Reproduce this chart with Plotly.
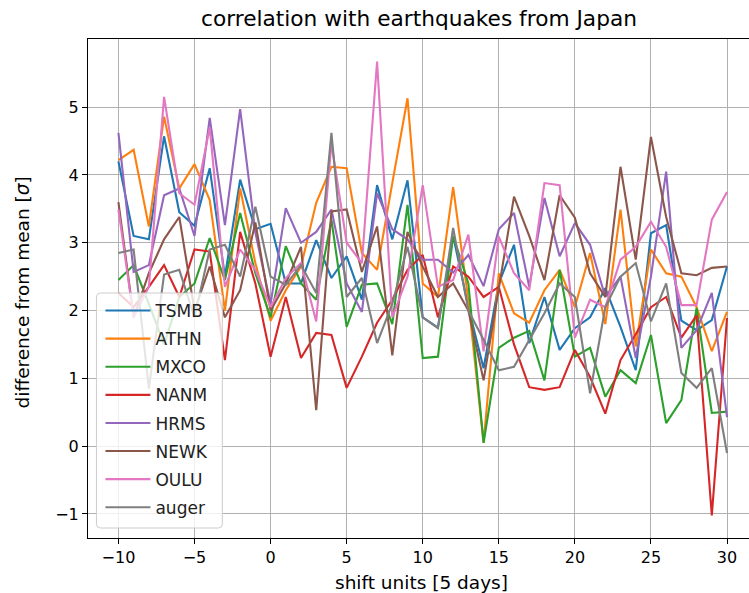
import plotly.graph_objects as go

# shift in units of 5 days
shift = list(range(-10, 31))

TSMB = [4.2, 3.1, 3.05, 4.57, 3.45, 3.25, 4.1, 2.5, 3.93, 3.2, 3.28, 2.4, 2.4, 3.04, 2.48, 2.8, 2.16,
        3.85, 3.05, 3.92, 1.9, 1.75, 3.1, 2.05, 1.15, 2.4, 2.97, 1.52, 2.2, 1.42, 1.74, 1.9, 2.33,
        1.76, 1.12, 3.14, 3.26, 1.85, 1.71, 1.86, 2.65]
ATHN = [4.22, 4.37, 3.24, 4.86, 3.8, 4.16, 3.63, 2.0, 3.8, 2.7, 1.85, 2.3, 2.65, 3.59, 4.12, 4.1, 2.85,
        2.6, 3.88, 5.13, 2.4, 2.2, 3.82, 2.15, 0.05, 2.55, 1.96, 1.82, 2.3, 2.6, 2.05, 2.85, 1.8,
        3.49, 1.47, 2.9, 2.55, 2.5, 2.05, 1.4, 1.98]
MXCO = [2.45, 2.67, 2.1, 1.5, 2.2, 2.4, 3.07, 2.45, 3.44, 2.55, 1.9, 2.95, 2.4, 2.16, 3.34, 1.76, 2.38,
        2.4, 1.8, 3.56, 1.3, 1.32, 3.1, 2.4, 0.05, 1.45, 1.6, 1.7, 0.97, 2.6, 1.32, 1.45, 0.73,
        1.12, 0.93, 1.64, 0.34, 0.68, 2.04, 0.49, 0.51]
NANM = [2.26, 2.05, 2.35, 2.67, 2.2, 2.9, 2.87, 1.27, 3.16, 2.4, 1.32, 2.2, 1.3, 1.67, 1.64, 0.86, 1.32,
        1.82, 2.16, 2.6, 2.82, 1.9, 2.65, 2.5, 2.2, 2.35, 1.5, 0.87, 0.83, 0.87, 1.42, 1.02, 0.48,
        1.27, 1.65, 2.05, 2.2, 1.6, 1.93, -1.02, 1.89]
HRMS = [4.62, 2.57, 2.67, 3.7, 3.8, 3.1, 4.84, 3.26, 4.97, 3.15, 2.1, 3.51, 3.0, 3.16, 3.49, 2.4, 1.98,
        3.73, 3.2, 3.05, 2.75, 2.75, 2.56, 2.82, 2.36, 3.2, 3.44, 2.35, 3.66, 2.8, 3.29, 2.97, 2.2,
        2.5, 1.3, 2.5, 4.05, 1.45, 1.71, 2.26, 0.43]
NEWK = [3.6, 1.9, 2.55, 3.05, 3.38, 2.0, 2.65, 1.9, 2.3, 3.3, 2.0, 2.4, 2.94, 0.53, 3.46, 3.49, 2.57,
        3.24, 1.34, 3.16, 2.65, 2.2, 2.4, 2.0, 0.97, 2.3, 3.68, 3.1, 2.45, 3.7, 3.37, 2.55, 2.2,
        4.12, 2.75, 4.56, 3.38, 2.55, 2.52, 2.63, 2.65]
OULU = [3.49, 1.9, 2.35, 5.15, 3.73, 3.56, 4.7, 2.35, 2.9, 2.6, 2.05, 2.48, 2.7, 1.84, 4.47, 3.0, 2.7,
        5.67, 1.9, 2.5, 3.85, 2.35, 2.45, 3.12, 1.4, 3.09, 2.55, 2.3, 3.88, 3.85, 1.6, 2.16, 2.05,
        2.75, 2.94, 3.31, 2.94, 2.08, 2.08, 3.34, 3.75]
auger = [2.85, 2.9, 0.85, 2.53, 2.6, 1.9, 2.9, 2.97, 2.5, 3.53, 2.5, 2.38, 2.67, 2.26, 4.62, 2.2, 2.48,
         1.52, 2.1, 2.94, 1.9, 1.74, 3.22, 2.0, 1.57, 1.12, 1.17, 1.57, 1.96, 2.4, 2.2, 0.78, 2.05,
         2.5, 2.7, 1.84, 2.4, 1.08, 0.86, 1.15, -0.1]

names = ["TSMB", "ATHN", "MXCO", "NANM", "HRMS", "NEWK", "OULU", "auger"]
series = [TSMB, ATHN, MXCO, NANM, HRMS, NEWK, OULU, auger]
colors = ["#1f77b4", "#ff7f0e", "#2ca02c", "#d62728", "#9467bd", "#8c564b", "#e377c2", "#7f7f7f"]

x_ticks = [-10, -5, 0, 5, 10, 15, 20, 25, 30]
y_ticks = [-1, 0, 1, 2, 3, 4, 5]

W, H = 749, 593
L, R, T, B = 87.55, 0, 39, 55
pw, ph = W - L - R, H - T - B

def px(xp):
    return (xp - L) / pw

def py(yp):
    return (H - B - yp) / ph

FONT = "DejaVu Sans"
TICK = 16
LABEL = 18.5

fig = go.Figure()
for i, (name, ys, c) in enumerate(zip(names, series, colors)):
    fig.add_trace(go.Scatter(x=shift, y=ys, mode="lines", name=name,
                             line=dict(color=c, width=2.1), legendgroup=f"g{i}"))

# rounded legend frame
x0, x1, y0, y1 = px(96), px(222), py(528), py(293)
rx, ry = 4 / pw, 4 / ph
path = (f"M {x0+rx},{y0} L {x1-rx},{y0} Q {x1},{y0} {x1},{y0+ry} "
        f"L {x1},{y1-ry} Q {x1},{y1} {x1-rx},{y1} L {x0+rx},{y1} Q {x0},{y1} {x0},{y1-ry} "
        f"L {x0},{y0+ry} Q {x0},{y0} {x0+rx},{y0} Z")

fig.update_layout(
    width=W, height=H,
    margin=dict(l=L, r=R, t=T, b=B, pad=0),
    paper_bgcolor="white", plot_bgcolor="white",
    font=dict(family=FONT, size=LABEL, color="black"),
    showlegend=True,
    legend=dict(x=px(100), y=py(293), xanchor="left", yanchor="top",
                bgcolor="rgba(0,0,0,0)", borderwidth=0,
                font=dict(family=FONT, size=17, color="#222"),
                tracegroupgap=3, traceorder="grouped", itemwidth=45),
    shapes=[dict(type="path", path=path, xref="paper", yref="paper",
                 fillcolor="rgba(255,255,255,0.8)", line=dict(color="#cccccc", width=1),
                 layer="above")],
    annotations=[
        dict(text="correlation with earthquakes from Japan", x=px(418.5), y=py(18),
             xref="paper", yref="paper", showarrow=False, xanchor="center", yanchor="middle",
             font=dict(family=FONT, size=21.7, color="black")),
        dict(text="shift units [5 days]", x=px(421), y=py(582), xref="paper", yref="paper",
             showarrow=False, xanchor="center", yanchor="middle",
             font=dict(family=FONT, size=LABEL, color="black")),
        dict(text="difference from mean [<i>σ</i>]", x=px(22), y=py(292), xref="paper",
             yref="paper", showarrow=False, xanchor="center", yanchor="middle", textangle=-90,
             font=dict(family=FONT, size=LABEL, color="black")),
    ],
)

fig.update_xaxes(range=[-12, -12 + pw / 15.225], tickvals=x_ticks, ticks="outside", ticklen=5,
                 tickwidth=1, tickcolor="black", showline=True, linecolor="black", linewidth=1,
                 mirror=True, showgrid=True, gridcolor="#b0b0b0", gridwidth=1, zeroline=False,
                 tickfont=dict(family=FONT, size=TICK, color="black"))
fig.update_yaxes(range=[-1.354, 6.0045], tickvals=y_ticks, ticks="outside", ticklen=5,
                 tickwidth=1, tickcolor="black", showline=True, linecolor="black", linewidth=1,
                 mirror=False, showgrid=True, gridcolor="#b0b0b0", gridwidth=1, zeroline=False,
                 tickfont=dict(family=FONT, size=TICK, color="black"))

fig.write_html("out.html")
